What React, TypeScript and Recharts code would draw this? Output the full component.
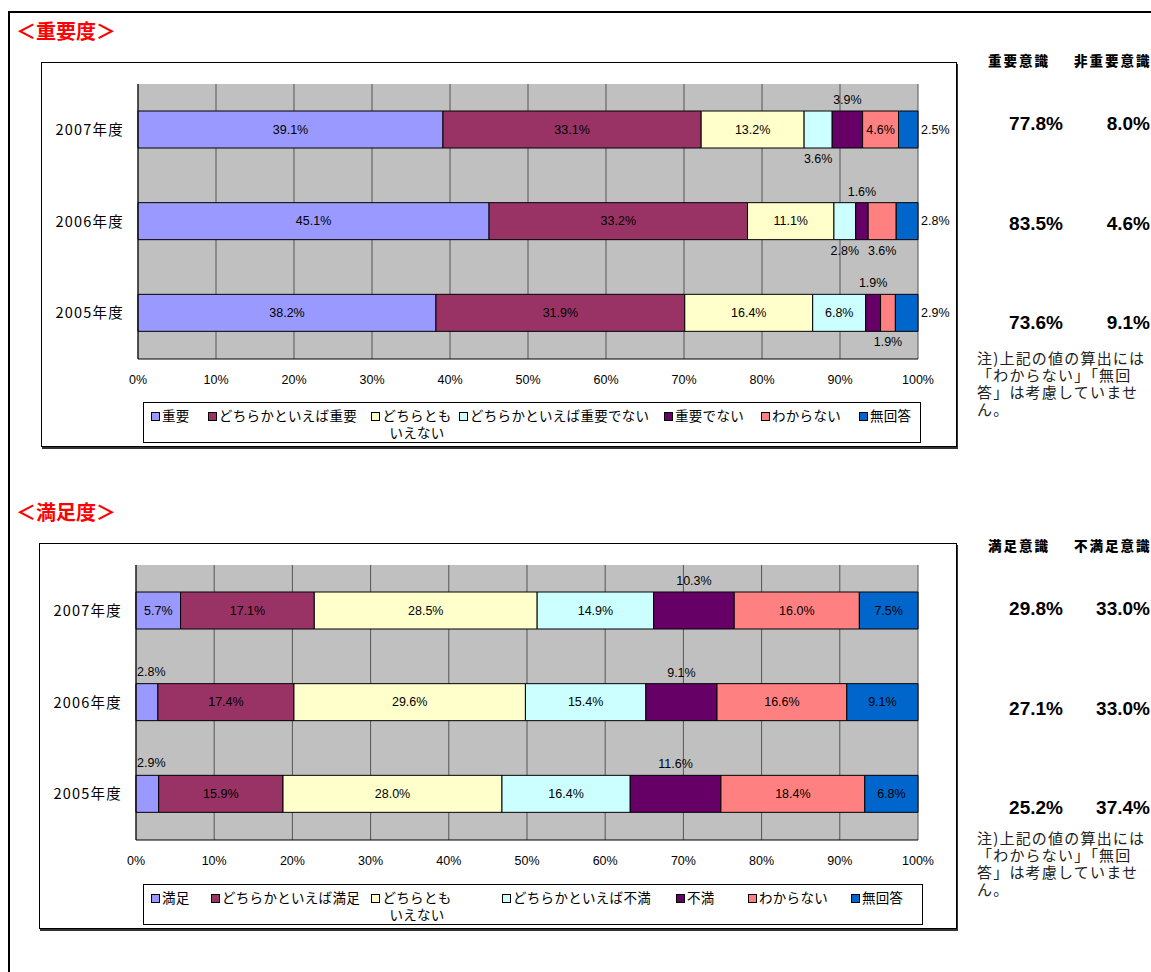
import { BarChart, Bar, XAxis, YAxis, CartesianGrid, LabelList } from "recharts";

// ---- data ----
const years = ["2007年度", "2006年度", "2005年度"];

const importanceSeries = [
  "重要",
  "どちらかといえば重要",
  "どちらともいえない",
  "どちらかといえば重要でない",
  "重要でない",
  "わからない",
  "無回答",
];
const importance2007 = [39.1, 33.1, 13.2, 3.6, 3.9, 4.6, 2.5];
const importance2006 = [45.1, 33.2, 11.1, 2.8, 1.6, 3.6, 2.8];
const importance2005 = [38.2, 31.9, 16.4, 6.8, 1.9, 1.9, 2.9];
const importanceAware = [77.8, 83.5, 73.6];
const importanceNotAware = [8.0, 4.6, 9.1];

const satisfactionSeries = [
  "満足",
  "どちらかといえば満足",
  "どちらともいえない",
  "どちらかといえば不満",
  "不満",
  "わからない",
  "無回答",
];
const satisfaction2007 = [5.7, 17.1, 28.5, 14.9, 10.3, 16.0, 7.5];
const satisfaction2006 = [2.8, 17.4, 29.6, 15.4, 9.1, 16.6, 9.1];
const satisfaction2005 = [2.9, 15.9, 28.0, 16.4, 11.6, 18.4, 6.8];
const satisfactionAware = [29.8, 27.1, 25.2];
const satisfactionNotAware = [33.0, 33.0, 37.4];

const xTicks = [0, 0.1, 0.2, 0.3, 0.4, 0.5, 0.6, 0.7, 0.8, 0.9, 1];

// ---- styling ----
const COLORS = ["#9999FF", "#993366", "#FFFFCC", "#CCFFFF", "#660066", "#FF8080", "#0066CC"];
const NARROW = '"Liberation Sans Narrow", "Liberation Sans", Arial, sans-serif';
const JP = '"Noto Sans CJK JP", "Noto Sans", sans-serif';
const NOTE = "注)上記の値の算出には「わからない」「無回答」は考慮していません。";

// where each data label sits (in / above / below / right / aboveLeft)
const importancePlace = [
  ["in", "in", "in", "below", "above", "in", "right"],
  ["in", "in", "in", "below", "above", "below", "right"],
  ["in", "in", "in", "in", "above", "below", "right"],
];
const satisfactionPlace = [
  ["in", "in", "in", "in", "above", "in", "in"],
  ["aboveLeft", "in", "in", "in", "above", "in", "in"],
  ["aboveLeft", "in", "in", "in", "above", "in", "in"],
];

const importanceLegendLeft = [7, 64, 227, 315, 520, 617, 715];
const satisfactionLegendLeft = [7, 67, 227, 358, 532, 604, 707];

const buildRows = (rows: number[][]) =>
  years.map((year, i) => {
    const row: Record<string, number | string> = { year };
    rows[i].forEach((v, s) => (row[`s${s}`] = v));
    return row;
  });

const makeLabel = (rows: number[][], places: string[][], s: number) => (props: any) => {
  const vb = props.viewBox || {};
  const x = Number(props.x ?? vb.x);
  const y = Number(props.y ?? vb.y);
  const w = Number(props.width ?? vb.width);
  const h = Number(props.height ?? vb.height);
  const i = props.index;
  const place = places[i][s];
  const text = `${rows[i][s].toFixed(1)}%`;
  let tx = x + w / 2;
  let ty = y + h / 2;
  let anchor: "middle" | "start" = "middle";
  if (place === "above") ty = y - 11;
  if (place === "below") ty = y + h + 11;
  if (place === "right") {
    tx = x + w + 3;
    anchor = "start";
  }
  if (place === "aboveLeft") {
    tx = x + 1;
    ty = y - 12;
    anchor = "start";
  }
  return (
    <text
      x={tx}
      y={ty}
      textAnchor={anchor}
      dominantBaseline="central"
      fontFamily={NARROW}
      fontSize={12.5}
      fill="#000"
    >
      {text}
    </text>
  );
};

interface PanelProps {
  title: string;
  titleTop: number;
  boxLeft: number;
  boxTop: number;
  boxWidth: number;
  boxHeight: number;
  series: string[];
  rows: number[][];
  places: string[][];
  legendLeft: number[];
  legendBox: { left: number; top: number; width: number };
  heads: string[];
  aware: number[];
  notAware: number[];
  headTop: number;
  noteTop: number;
}

const headStyle = {
  position: "absolute" as const,
  top: 0,
  fontFamily: JP,
  fontWeight: 900,
  fontSize: 13.5,
  letterSpacing: 2,
  lineHeight: "16px",
  whiteSpace: "nowrap" as const,
};

const valueStyle = {
  position: "absolute" as const,
  textAlign: "right" as const,
  fontFamily: '"Liberation Sans", Arial, sans-serif',
  fontWeight: 700,
  fontSize: 19,
  lineHeight: "22px",
  whiteSpace: "nowrap" as const,
};

const Panel = (p: PanelProps) => {
  const data = buildRows(p.rows);
  return (
    <>
      <div
        style={{
          position: "absolute",
          left: 16,
          top: p.titleTop,
          color: "#FF0000",
          fontFamily: JP,
          fontWeight: 700,
          fontSize: 20,
          lineHeight: "20px",
        }}
      >
        ＜{p.title}＞
      </div>

      <div
        style={{
          position: "absolute",
          left: p.boxLeft,
          top: p.boxTop,
          width: p.boxWidth,
          height: p.boxHeight,
          border: "1px solid #000",
          boxShadow: "1px 2px 0 #333",
          boxSizing: "border-box",
          background: "#fff",
        }}
      />
      <div style={{ position: "absolute", left: p.boxLeft, top: p.boxTop }}>
        <BarChart
          width={p.boxWidth}
          height={p.boxHeight}
          data={data}
          layout="vertical"
          stackOffset="expand"
          barSize={37}
          margin={{ top: 22, right: 39, left: 0, bottom: p.boxHeight - 22 - 275 - 30 }}
        >
          <CartesianGrid horizontal={false} fill="#C0C0C0" stroke="#555" fillOpacity={1} />
          <XAxis
            type="number"
            domain={[0, 1]}
            ticks={xTicks}
            tickFormatter={(v: number) => `${Math.round(v * 100)}%`}
            height={30}
            tickLine={false}
            tickMargin={10}
            axisLine={{ stroke: "#000" }}
            tick={{ fontFamily: NARROW, fontSize: 12.5, fill: "#000" }}
          />
          <YAxis
            type="category"
            dataKey="year"
            width={97}
            tickLine={false}
            tickMargin={8}
            axisLine={{ stroke: "#000" }}
            tick={{ fontFamily: JP, fontSize: 14.5, fill: "#000", letterSpacing: 1.2 }}
          />
          {p.series.map((name, s) => (
            <Bar
              key={name}
              dataKey={`s${s}`}
              name={name}
              stackId="a"
              fill={COLORS[s]}
              stroke="#000"
              strokeWidth={1}
              isAnimationActive={false}
            >
              <LabelList dataKey={`s${s}`} content={makeLabel(p.rows, p.places, s)} />
            </Bar>
          ))}
        </BarChart>
      </div>

      <div
        style={{
          position: "absolute",
          left: p.legendBox.left,
          top: p.legendBox.top,
          width: p.legendBox.width,
          height: 41,
          border: "1px solid #000",
          boxSizing: "border-box",
          background: "#fff",
          fontFamily: JP,
          fontSize: 13.5,
          letterSpacing: 0.3,
          lineHeight: "17px",
          color: "#000",
        }}
      >
        {p.series.map((name, s) => {
          const wrap = s === 2;
          return (
            <div
              key={name}
              style={{
                position: "absolute",
                left: p.legendLeft[s],
                top: 4,
                display: "flex",
                alignItems: "flex-start",
                whiteSpace: wrap ? "normal" : "nowrap",
              }}
            >
              <span
                style={{
                  display: "inline-block",
                  width: 7,
                  height: 7,
                  marginTop: 5,
                  marginRight: 2,
                  border: "1px solid #000",
                  background: COLORS[s],
                }}
              />
              <span style={wrap ? { width: 70, textAlign: "center" } : undefined}>{name}</span>
            </div>
          );
        })}
      </div>

      <div style={{ position: "absolute", left: 0, top: p.headTop }}>
        <div style={{ ...headStyle, left: 988 }}>{p.heads[0]}</div>
        <div style={{ ...headStyle, left: 1074 }}>{p.heads[1]}</div>
      </div>
      {p.aware.map((v, i) => (
        <div key={`a${i}`}>
          <div style={{ ...valueStyle, left: 960, width: 103, top: p.headTop + 61 + i * 99.5 }}>
            {v.toFixed(1)}%
          </div>
          <div style={{ ...valueStyle, left: 1050, width: 100, top: p.headTop + 61 + i * 99.5 }}>
            {p.notAware[i].toFixed(1)}%
          </div>
        </div>
      ))}
      <div
        style={{
          position: "absolute",
          left: 977,
          top: p.noteTop,
          width: 172,
          fontFamily: JP,
          fontSize: 15,
          lineHeight: "17px",
          letterSpacing: 1.2,
          color: "#222",
          wordBreak: "break-all",
        }}
      >
        {NOTE}
      </div>
    </>
  );
};

export default function App() {
  return (
    <div
      style={{
        position: "absolute",
        left: 0,
        top: 0,
        width: 1151,
        height: 972,
        overflow: "hidden",
        background: "#fff",
      }}
    >
      <div
        style={{
          position: "absolute",
          left: 8,
          top: 11,
          width: 1300,
          height: 1100,
          border: "2px solid #000",
        }}
      />
      <Panel
        title="重要度"
        titleTop={21}
        boxLeft={41}
        boxTop={62}
        boxWidth={916}
        boxHeight={385}
        series={importanceSeries}
        rows={[importance2007, importance2006, importance2005]}
        places={importancePlace}
        legendLeft={importanceLegendLeft}
        legendBox={{ left: 143, top: 402, width: 778 }}
        heads={["重要意識", "非重要意識"]}
        aware={importanceAware}
        notAware={importanceNotAware}
        headTop={52}
        noteTop={349}
      />
      <Panel
        title="満足度"
        titleTop={502}
        boxLeft={39}
        boxTop={543}
        boxWidth={918}
        boxHeight={386}
        series={satisfactionSeries}
        rows={[satisfaction2007, satisfaction2006, satisfaction2005]}
        places={satisfactionPlace}
        legendLeft={satisfactionLegendLeft}
        legendBox={{ left: 143, top: 884, width: 780 }}
        heads={["満足意識", "不満足意識"]}
        aware={satisfactionAware}
        notAware={satisfactionNotAware}
        headTop={537}
        noteTop={829}
      />
    </div>
  );
}
